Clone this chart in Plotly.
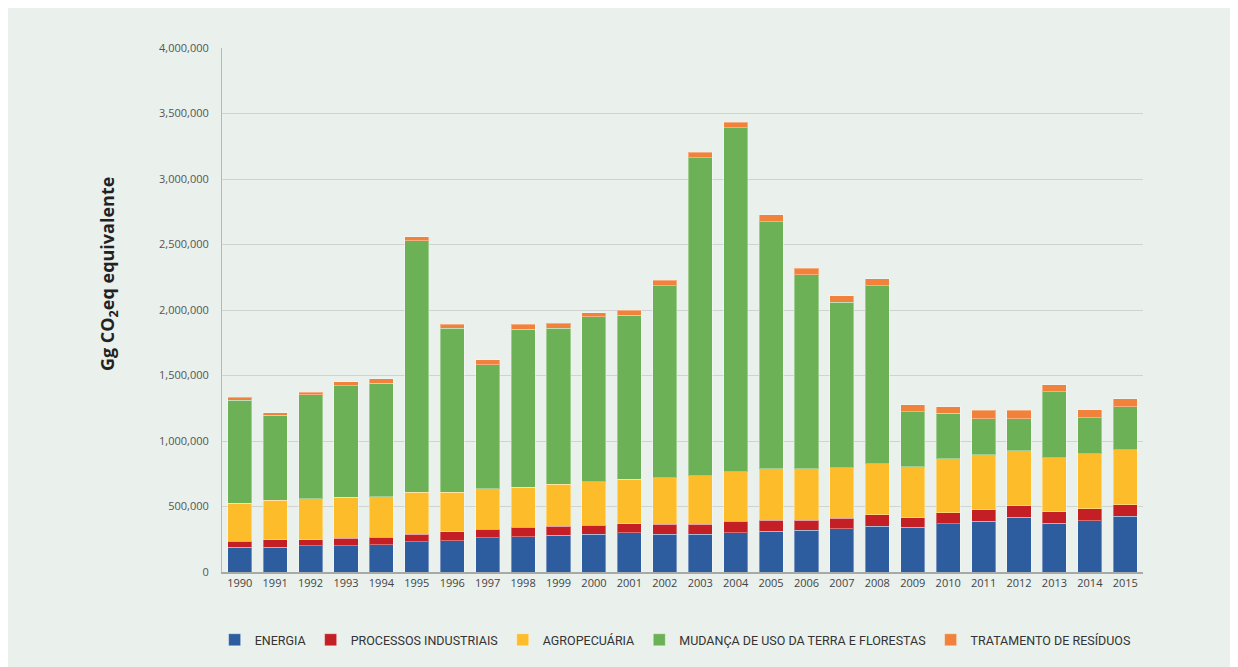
import plotly.graph_objects as go

# data (Gg CO2eq)
anos = [str(a) for a in range(1990, 2016)]
energia = [190000, 190000, 200000, 200000, 208000, 231000, 239000, 261000, 269000, 282000,
           290000, 300000, 290000, 290000, 300000, 310000, 320000, 330000, 351000, 340000,
           368000, 389000, 419000, 373000, 393000, 424000]
processos = [46000, 56000, 46000, 56000, 59000, 56000, 68000, 67000, 71000, 66000,
             68000, 68000, 76000, 76000, 86000, 86000, 76000, 79000, 86000, 76000,
             86000, 86000, 86000, 87000, 89000, 89000]
agropecuaria = [290000, 300000, 313000, 313000, 309000, 320000, 300000, 309000, 308000, 320000,
                330000, 341000, 353000, 370000, 381000, 391000, 391000, 388000, 388000, 389000,
                412000, 419000, 420000, 411000, 422000, 421000]
mudanca_uso = [787000, 651000, 795000, 853000, 864000, 1920000, 1253000, 945000, 1204000, 1192000,
               1260000, 1250000, 1468000, 2427000, 2625000, 1888000, 1481000, 1261000, 1362000, 419000,
               346000, 277000, 246000, 506000, 275000, 326000]
residuos = [21000, 17000, 18000, 31000, 35000, 31000, 30000, 38000, 38000, 40000,
            31000, 40000, 41000, 40000, 40000, 51000, 49000, 50000, 51000, 51000,
            50000, 64000, 64000, 51000, 58000, 61000]

series = [
    ("ENERGIA", energia, "#2e5d9f"),
    ("PROCESSOS INDUSTRIAIS", processos, "#c31f25"),
    ("AGROPECUÁRIA", agropecuaria, "#fdbd2a"),
    ("MUDANÇA DE USO DA TERRA E FLORESTAS", mudanca_uso, "#6cb155"),
    ("TRATAMENTO DE RESÍDUOS", residuos, "#f1823c"),
]

fig = go.Figure()

for nome, valores, cor in series:
    fig.add_trace(go.Bar(
        x=anos,
        y=valores,
        name=nome,
        marker=dict(color=cor, line=dict(color="rgba(255,255,255,0.35)", width=1)),
    ))

# y axis title as annotation (sits a bit above the middle in the original)
fig.add_annotation(
    text="<b>Gg CO<sub>2</sub>eq equivalente</b>",
    xref="paper", yref="paper", x=-0.123, y=0.568,
    xanchor="center", yanchor="middle",
    textangle=-90, showarrow=False,
    font=dict(size=18, color="#222222", family="Open Sans"),
)

fig.update_layout(
    barmode="stack",
    bargap=0.32,
    width=1238,
    height=667,
    margin=dict(l=214, r=103, t=40, b=103, autoexpand=False),
    paper_bgcolor="#eaf0ec",
    plot_bgcolor="rgba(0,0,0,0)",
    font=dict(family="Open Sans", color="#444444", size=11),
    legend=dict(
        orientation="h", x=0.492, xanchor="center", y=-0.13, yanchor="middle",
        font=dict(size=12.5, color="#333333", family="Roboto"),
        traceorder="normal", bgcolor="rgba(0,0,0,0)",
        itemwidth=30, tracegroupgap=0,
    ),
    xaxis=dict(
        showline=True, linecolor="#a6a9a7", linewidth=2,
        tickfont=dict(size=11, color="#444444"), ticks="",
    ),
    yaxis=dict(
        range=[0, 4000000], dtick=500000, tickformat=",d",
        showgrid=True, gridcolor="#d0d4d1", gridwidth=1,
        showline=True, linecolor="#b5b8b6", linewidth=1,
        zeroline=False, ticks="", ticklabelstandoff=10,
        tickfont=dict(size=11, color="#555555"),
    ),
)

fig.write_html("out.html")
